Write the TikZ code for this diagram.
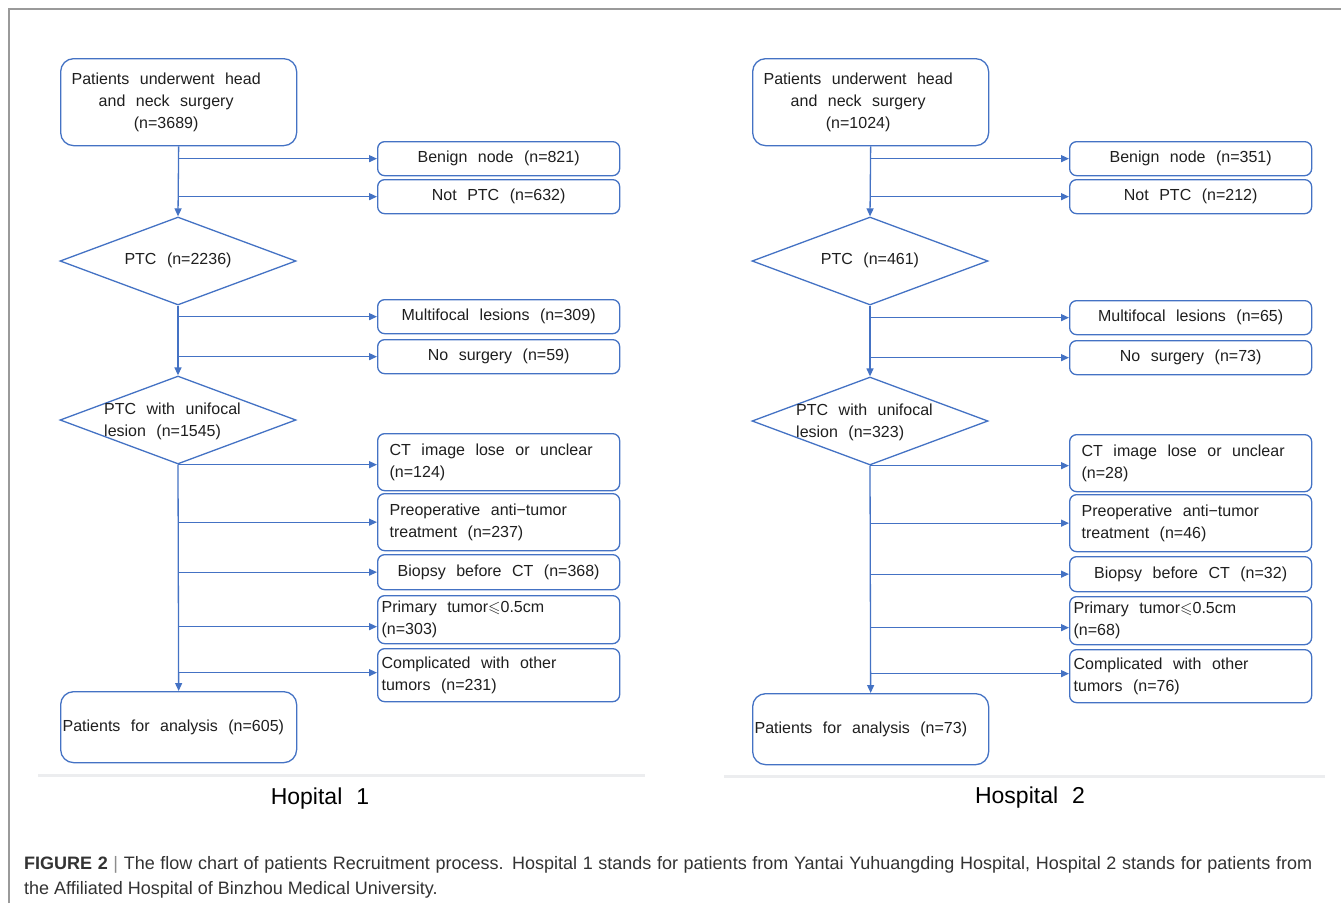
\documentclass[tikz,border=0pt]{standalone}
\usepackage{fontspec}
\usepackage{amssymb}
\setmainfont{Liberation Sans}
\newfontfamily\boxfont{Liberation Sans}
\newcommand\wsp{\spaceskip=10.5pt plus 1pt minus 1pt\relax}
\newcommand\bfnt{\boxfont\fontsize{16}{22}\selectfont\wsp}
\newcommand\tfnt{\boxfont\fontsize{23}{28}\selectfont\spaceskip=14pt\relax}
\usetikzlibrary{arrows.meta,shapes.geometric}
\definecolor{flowblue}{HTML}{4472C4}
\definecolor{framegray}{HTML}{9A9A9A}
\definecolor{sepgray}{HTML}{ECEDEF}
\definecolor{captext}{HTML}{333333}
\tikzset{
  box/.style={draw=flowblue, line width=1.3pt, rounded corners=7pt,
    font=\bfnt, text=black!88,
    minimum width=242pt, minimum height=34pt, anchor=north west,
    inner sep=0pt, align=center},
  bigbox/.style={box, minimum width=236pt, rounded corners=13pt},
  lbox/.style={box, text width=#1, align=left, execute at begin node=\wsp},
  dia/.style={draw=flowblue, line width=1.3pt, diamond, shape aspect=2.68,
    minimum width=236pt, minimum height=88pt, inner sep=0pt,
    font=\bfnt, text=black!88},
  dtext/.style={font=\bfnt, text=black!88,
    anchor=west, align=left, inner sep=0pt},
  arr/.style={draw=flowblue, line width=1.3pt, -{Triangle[length=8pt,width=7pt]}},
  sepline/.style={draw=sepgray, line width=3pt},
  titlestyle/.style={font=\tfnt, text=black, inner sep=0pt},
  captionstyle/.style={font=\fontsize{18}{22}\selectfont, text=captext, inner sep=0pt, anchor=base west}
}
\newcommand\topblock[1]{\begin{tabular}{@{}c@{}}\wsp Patients underwent head\\\wsp and neck surgery\\(n=#1)\end{tabular}\hspace*{25pt}}
\begin{document}
\begin{tikzpicture}[x=1pt,y=-1pt]
\useasboundingbox (0,0) rectangle (1341,903);
\fill[white] (0,0) rectangle (1341,903);
\draw[framegray, line width=1.2pt] (9,903) -- (9,9) -- (1341,9);

% ---------------- Hospital 1 ----------------
\node[bigbox, minimum height=87pt] (a0) at (60,58) {\topblock{3689}};
\node[box] (a1) at (377,141) {Benign node (n=821)};
\node[box] (a2) at (377,179) {Not PTC (n=632)};
\node[dia] (a3) at (178,261) {PTC (n=2236)\rule[-4pt]{0pt}{0pt}};
\node[box] (a4) at (377,299) {Multifocal lesions (n=309)};
\node[box] (a5) at (377,339) {No surgery (n=59)};
\node[dia] (a6) at (178,420) {};
\node[dtext] (a6t) at (104,421) {PTC with unifocal\\lesion (n=1545)};
\node[lbox=218pt, minimum height=57pt] (a7) at (377,433) {CT image lose or unclear\\(n=124)};
\node[lbox=218pt, minimum height=57pt] (a8) at (377,493) {Preoperative anti−tumor\\treatment (n=237)};
\node[box, minimum height=35pt] (a9) at (377,554) {Biopsy before CT (n=368)};
\node[lbox=234pt, minimum height=48pt] (a10) at (377,595) {Primary tumor$\leqslant$0.5cm\\(n=303)};
\node[lbox=234pt, minimum height=53pt] (a11) at (377,648) {Complicated with other\\tumors (n=231)};
\node[bigbox, lbox=232pt, minimum width=236pt, minimum height=71pt, rounded corners=13pt] (a12) at (60,691) {Patients for analysis (n=605)};

\draw[arr] (a0.south) -- (a3.north);
\draw[arr] (a0.south |- a1.west) -- (a1.west);
\draw[arr] (a0.south |- a2.west) -- (a2.west);
\draw[arr] (a3.south) -- (a6.north);
\draw[arr] (a3.south |- a4.west) -- (a4.west);
\draw[arr] (a3.south |- a5.west) -- (a5.west);
\draw[arr] (a6.south) -- (a12.north);
\draw[arr] (a6.south) -- (a6.south -| a7.west);
\draw[arr] (a6.south |- a8.west) -- (a8.west);
\draw[arr] (a6.south |- a9.west) -- (a9.west);
\coordinate (a10p) at ([yshift=-7pt]a10.west);
\draw[arr] (a6.south |- a10p) -- (a10p);
\coordinate (a11p) at ([yshift=2.5pt]a11.west);
\draw[arr] (a6.south |- a11p) -- (a11p);

\draw[sepline] (38,775) -- (645,775);
\node[titlestyle] (t1) at (320,799) {Hopital 1};

% ---------------- Hospital 2 ----------------
\begin{scope}[shift={(692,1)}]
\node[bigbox, minimum height=87pt] (b0) at (60,57) {\topblock{1024}};
\node[box] (b1) at (377,140) {Benign node (n=351)};
\node[box] (b2) at (377,178) {Not PTC (n=212)};
\node[dia] (b3) at (178,260) {PTC (n=461)\rule[-4pt]{0pt}{0pt}};
\node[box] (b4) at (377,299) {Multifocal lesions (n=65)};
\node[box] (b5) at (377,339) {No surgery (n=73)};
\node[dia] (b6) at (178,420) {};
\node[dtext] (b6t) at (104,421) {PTC with unifocal\\lesion (n=323)};
\node[lbox=218pt, minimum height=57pt] (b7) at (377,433) {CT image lose or unclear\\(n=28)};
\node[lbox=218pt, minimum height=57pt] (b8) at (377,493) {Preoperative anti−tumor\\treatment (n=46)};
\node[box, minimum height=35pt] (b9) at (377,555) {Biopsy before CT (n=32)};
\node[lbox=234pt, minimum height=48pt] (b10) at (377,595) {Primary tumor$\leqslant$0.5cm\\(n=68)};
\node[lbox=234pt, minimum height=53pt] (b11) at (377,648) {Complicated with other\\tumors (n=76)};
\node[bigbox, lbox=232pt, minimum width=236pt, minimum height=71pt, rounded corners=13pt] (b12) at (60,692) {Patients for analysis (n=73)};

\draw[arr] (b0.south) -- (b3.north);
\draw[arr] (b0.south |- b1.west) -- (b1.west);
\draw[arr] (b0.south |- b2.west) -- (b2.west);
\draw[arr] (b3.south) -- (b6.north);
\draw[arr] (b3.south |- b4.west) -- (b4.west);
\draw[arr] (b3.south |- b5.west) -- (b5.west);
\draw[arr] (b6.south) -- (b12.north);
\draw[arr] (b6.south) -- (b6.south -| b7.west);
\draw[arr] (b6.south |- b8.west) -- (b8.west);
\draw[arr] (b6.south |- b9.west) -- (b9.west);
\coordinate (b10p) at ([yshift=-7pt]b10.west);
\draw[arr] (b6.south |- b10p) -- (b10p);
\coordinate (b11p) at ([yshift=2.5pt]b11.west);
\draw[arr] (b6.south |- b11p) -- (b11p);
\end{scope}

\draw[sepline] (724,776) -- (1325,776);
\node[titlestyle] (t2) at (1030,798) {Hospital 2};

% ---------------- caption ----------------
\node[captionstyle] (c1) at (24,869) {\makebox[1288pt][s]{\textbf{FIGURE 2} {\color{black!45}|} The flow chart of patients Recruitment process. Hospital 1 stands for patients from Yantai Yuhuangding Hospital, Hospital 2 stands for patients from}};
\node[captionstyle] (c2) at (24,894) {the Affiliated Hospital of Binzhou Medical University.};
\end{tikzpicture}
\end{document}
